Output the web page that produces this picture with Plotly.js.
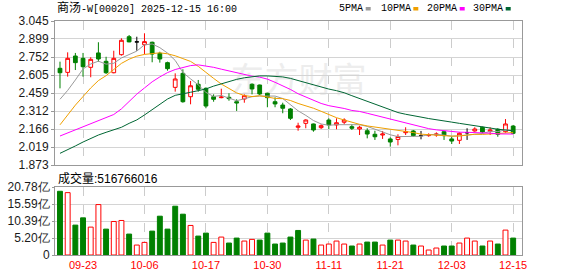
<!DOCTYPE html>
<html><head><meta charset="utf-8">
<script src="https://cdn.plot.ly/plotly-3.0.1.min.js"></script>
<style>html,body{margin:0;padding:0;background:#fff}#c{width:578px;height:276px}</style>
</head><body><div id="c"></div>
<script>
const dates = ['09-18','09-19','09-22','09-23','09-24','09-25','09-26','09-29','09-30','10-02',
'10-03','10-06','10-08','10-09','10-10','10-13','10-14','10-15','10-16','10-17',
'10-20','10-21','10-22','10-23','10-24','10-27','10-28','10-30','10-31','11-03',
'11-04','11-05','11-06','11-07','11-10','11-11','11-12','11-13','11-14','11-17',
'11-18','11-19','11-20','11-21','11-24','11-25','11-26','11-27','11-28','12-01',
'12-02','12-03','12-04','12-05','12-08','12-09','12-10','12-11','12-12','12-15'];

const open = [2.660,2.627,2.760,2.741,2.668,2.785,2.717,2.624,2.771,2.917,
2.875,2.852,2.872,2.782,2.706,2.505,2.619,2.429,2.530,2.497,
2.429,2.421,2.424,2.388,2.410,2.530,2.524,2.457,2.388,2.361,
2.329,2.180,2.212,2.207,2.177,2.239,2.199,2.221,2.185,2.166,
2.152,2.123,2.117,2.085,2.081,2.136,2.150,2.112,2.112,2.117,
2.144,2.085,2.074,2.136,2.150,2.180,2.147,2.164,2.144,2.190];
const high = [2.714,2.790,2.785,2.785,2.750,2.872,2.754,2.803,2.904,2.931,
2.917,2.945,2.877,2.795,2.714,2.619,2.652,2.557,2.565,2.505,
2.448,2.494,2.457,2.408,2.448,2.538,2.527,2.461,2.424,2.380,
2.337,2.217,2.245,2.210,2.204,2.253,2.253,2.253,2.204,2.193,
2.172,2.152,2.150,2.098,2.123,2.180,2.158,2.150,2.131,2.139,
2.147,2.103,2.139,2.172,2.180,2.185,2.180,2.172,2.247,2.199];
const low = [2.497,2.592,2.646,2.592,2.587,2.714,2.614,2.619,2.763,2.872,
2.803,2.774,2.709,2.706,2.641,2.470,2.380,2.367,2.470,2.335,
2.388,2.416,2.396,2.313,2.380,2.448,2.443,2.343,2.343,2.294,
2.239,2.152,2.172,2.144,2.166,2.166,2.164,2.204,2.158,2.117,
2.090,2.077,2.085,2.022,2.033,2.117,2.103,2.082,2.103,2.103,
2.077,2.044,2.044,2.077,2.144,2.131,2.117,2.103,2.136,2.125];
const close = [2.624,2.741,2.706,2.673,2.733,2.736,2.624,2.741,2.888,2.875,
2.875,2.877,2.776,2.736,2.657,2.573,2.388,2.518,2.489,2.353,
2.408,2.426,2.413,2.378,2.437,2.492,2.451,2.421,2.370,2.335,
2.253,2.190,2.239,2.158,2.193,2.199,2.217,2.239,2.172,2.180,
2.125,2.103,2.125,2.060,2.105,2.144,2.112,2.112,2.120,2.125,
2.112,2.068,2.131,2.136,2.166,2.142,2.158,2.123,2.207,2.131];

// volume in 亿股
const volume = [19.47,19.06,9.13,11.36,8.52,15.41,7.91,10.24,10.55,6.39,
3.04,3.85,7.30,11.86,7.91,14.91,12.47,9.03,5.78,6.69,
3.85,5.48,3.65,5.17,4.26,4.77,4.56,6.69,3.35,3.65,
5.48,7.50,4.56,4.87,3.04,3.35,4.26,3.35,2.74,3.35,
3.95,3.95,3.04,4.56,4.56,4.26,3.04,2.74,1.52,2.13,
2.74,2.74,3.65,5.17,4.26,2.74,4.26,3.35,7.61,5.17];

const ma5 = [2.408,2.480,2.565,2.655,2.695,2.718,2.694,2.701,2.744,2.773,
2.800,2.851,2.858,2.828,2.784,2.724,2.626,2.574,2.525,2.464,
2.431,2.439,2.418,2.396,2.412,2.429,2.434,2.436,2.434,2.414,
2.366,2.314,2.277,2.235,2.207,2.196,2.201,2.201,2.204,2.201,
2.187,2.164,2.141,2.119,2.104,2.107,2.109,2.107,2.119,2.123,
2.116,2.107,2.111,2.114,2.123,2.129,2.147,2.145,2.159,2.152];
const ma10 = [2.20,2.28,2.36,2.43,2.50,2.56,2.60,2.65,2.70,2.734,
2.759,2.773,2.780,2.786,2.778,2.762,2.739,2.716,2.676,2.624,
2.578,2.532,2.496,2.460,2.438,2.430,2.437,2.427,2.415,2.413,
2.398,2.374,2.357,2.335,2.310,2.281,2.258,2.239,2.220,2.204,
2.191,2.183,2.171,2.161,2.153,2.147,2.137,2.124,2.119,2.113,
2.112,2.108,2.109,2.117,2.123,2.122,2.127,2.128,2.137,2.137];
const ma20 = [2.109,2.134,2.159,2.184,2.209,2.234,2.259,2.284,2.330,2.390,
2.450,2.500,2.550,2.590,2.625,2.650,2.668,2.682,2.688,2.679,
2.668,2.653,2.638,2.623,2.608,2.596,2.588,2.572,2.546,2.519,
2.488,2.453,2.426,2.397,2.374,2.356,2.347,2.333,2.317,2.309,
2.294,2.278,2.264,2.248,2.231,2.214,2.197,2.182,2.169,2.159,
2.152,2.145,2.140,2.139,2.138,2.135,2.132,2.126,2.128,2.125];
const ma30 = [1.968,1.995,2.028,2.060,2.090,2.117,2.139,2.158,2.180,2.212,
2.240,2.280,2.325,2.370,2.410,2.440,2.455,2.465,2.478,2.492,
2.515,2.535,2.555,2.570,2.583,2.593,2.598,2.598,2.595,2.590,
2.578,2.560,2.544,2.527,2.509,2.491,2.478,2.461,2.437,2.414,
2.389,2.363,2.341,2.319,2.300,2.286,2.277,2.263,2.251,2.243,
2.234,2.222,2.212,2.204,2.195,2.183,2.174,2.164,2.158,2.152];

const tickDates = ['09-23','10-06','10-17','10-30','11-11','11-21','12-03','12-15'];
const priceTicks = [3.045,2.899,2.752,2.605,2.459,2.312,2.166,2.019,1.873];
const priceTickText = ['3.045','2.899','2.752','2.605','2.459','2.312','2.166','2.019','1.873'];
const volTicks = [0,5.195,10.39,15.585,20.78];
const volTickText = ['0','5.20亿','10.39亿','15.59亿','20.78亿'];
const maNames = ['5PMA','10PMA','20PMA','30PMA'];
const titleText = '商汤-W[00020] 2025-12-15 16:00';
const volText = '成交量:516766016';

const RED = '#ff0000', GREEN = '#008000', BLACK = '#000000';
const MA_COLORS = ['#9a9a9a', '#f0a000', '#ff00ff', '#006633'];

const L = 55, R = 522, T = 21, B = 255;
const px = v => (v - L) / (R - L);
const py = v => (B - v) / (B - T);

function pick(arr, cond) { return arr.map((v, i) => cond(i) ? v : null); }
const isUp = i => close[i] > open[i];
const isDn = i => close[i] < open[i];
const isFlat = i => close[i] === open[i];

function candle(cond, lineColor, fill) {
  return {
    type: 'candlestick', x: dates,
    open: pick(open, cond), high: pick(high, cond), low: pick(low, cond), close: pick(close, cond),
    xaxis: 'x2', yaxis: 'y2',
    increasing: { line: { color: lineColor, width: 1 }, fillcolor: fill },
    decreasing: { line: { color: lineColor, width: 1 }, fillcolor: fill },
    whiskerwidth: 0, hoverinfo: 'skip', showlegend: false
  };
}

const volUp = volume.map((v, i) => i === 0 ? close[0] >= open[0] : close[i] >= close[i - 1]);

const traces = [];
[ma5, ma10, ma20, ma30].forEach((m, k) => traces.push({
  type: 'scatter', mode: 'lines', x: dates, y: m, xaxis: 'x2', yaxis: 'y2',
  line: { color: MA_COLORS[k], width: 1 }, name: maNames[k], hoverinfo: 'skip'
}));
traces.push(candle(isUp, RED, '#ffffff'));
traces.push(candle(isDn, GREEN, GREEN));
traces.push(candle(isFlat, BLACK, BLACK));
traces.push({
  type: 'bar', x: dates, y: volume, xaxis: 'x', yaxis: 'y',
  marker: { color: volUp.map(u => u ? '#ffffff' : GREEN),
            line: { color: volUp.map(u => u ? RED : GREEN), width: 1 } },
  hoverinfo: 'skip'
});

const numFont = { family: 'Liberation Sans, Arial, sans-serif', size: 12, color: '#1a1a1a' };
const monoFont = { family: 'Liberation Mono, Noto Sans CJK SC, monospace', size: 10, color: '#000' };
const xRange = [-0.65, 60.15];

const commonX = {
  type: 'category', range: xRange, tickvals: tickDates, showgrid: true,
  gridcolor: '#cccccc', griddash: 'dash', gridwidth: 1,
  showline: true, mirror: true, linecolor: '#999999', linewidth: 1,
  ticks: '', zeroline: false, fixedrange: true, rangeslider: { visible: false }
};

const annotations = [
  { text: '<span style="font-size:12px">商汤</span>' + titleText.slice(2), xref: 'paper', yref: 'paper',
    x: px(55), y: py(8.5), xanchor: 'left', yanchor: 'middle', showarrow: false, font: monoFont },
  { text: volText, xref: 'paper', yref: 'paper', x: px(56), y: py(178), xanchor: 'left', yanchor: 'middle',
    showarrow: false, font: { family: 'Liberation Sans, Noto Sans CJK SC, sans-serif', size: 12, color: '#000' } }
];
const legX = [337, 379, 424.7, 470.7];
const sqX = [365.7, 413.3, 459.7, 505.7];
const shapes = [];
maNames.forEach((n, k) => {
  annotations.push({ text: n, xref: 'paper', yref: 'paper', x: px(legX[k]), y: py(8.5),
    xanchor: 'left', yanchor: 'middle', showarrow: false, font: monoFont });
  shapes.push({ type: 'rect', xref: 'paper', yref: 'paper', x0: px(sqX[k]), x1: px(sqX[k] + 5),
    y0: py(10.5), y1: py(7), fillcolor: MA_COLORS[k], line: { width: 0 } });
});
shapes.push({ type: 'rect', xref: 'paper', yref: 'paper', layer: 'below',
  x0: px(215), x1: px(382), y0: py(100), y1: py(64), line: { width: 0 }, fillcolor: 'rgba(0,0,0,0)',
  label: { text: '东方财富', textposition: 'middle center',
    font: { family: 'Noto Sans CJK SC, sans-serif', size: 34, color: '#ededed' } } });

const layout = {
  width: 578, height: 276,
  margin: { l: L, r: 578 - R, t: T, b: 276 - B, pad: 0 },
  paper_bgcolor: '#ffffff', plot_bgcolor: '#ffffff',
  showlegend: false, bargap: 0.36,
  font: numFont,
  xaxis: Object.assign({}, commonX, { domain: [0, 1], anchor: 'y', showticklabels: true,
    tickfont: { family: 'Liberation Sans, Arial, sans-serif', size: 11, color: RED } }),
  xaxis2: Object.assign({}, commonX, { domain: [0, 1], anchor: 'y2', showticklabels: false, matches: 'x' }),
  yaxis: { domain: [0, (B - 187) / (B - T)], range: [0, 20.78], tickvals: volTicks, ticktext: volTickText,
    showgrid: true, gridcolor: '#d4d4d4', showline: true, mirror: true, linecolor: '#999999',
    ticks: 'outside', ticklen: 2, tickcolor: '#999999', zeroline: false, fixedrange: true,
    tickfont: numFont, anchor: 'x' },
  yaxis2: { domain: [(B - 165) / (B - T), 1], range: [1.873, 3.045], tickvals: priceTicks, ticktext: priceTickText,
    showgrid: true, gridcolor: '#d4d4d4', showline: true, mirror: true, linecolor: '#999999',
    ticks: 'outside', ticklen: 3, tickcolor: '#999999', zeroline: false, fixedrange: true,
    tickfont: numFont, anchor: 'x2' },
  annotations: annotations,
  shapes: shapes
};

Plotly.newPlot('c', traces, layout, { staticPlot: true, displayModeBar: false });
</script>
</body></html>
